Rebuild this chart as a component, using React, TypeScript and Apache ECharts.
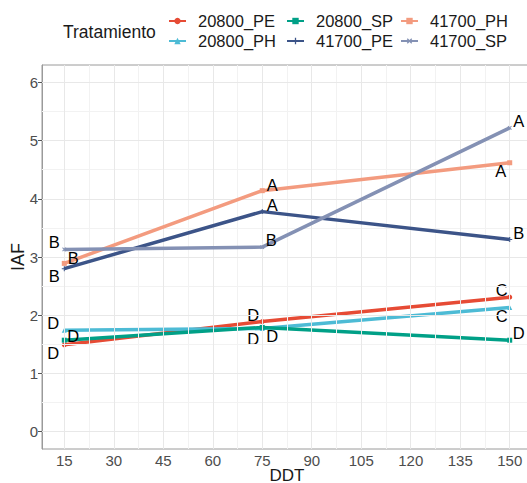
import React, { useEffect, useRef } from "react";
import * as echarts from "echarts";

const xValues = [15, 75, 150];
const seriesNames = ["20800_PE", "20800_PH", "20800_SP", "41700_PE", "41700_PH", "41700_SP"];
const s20800_PE = [1.49, 1.89, 2.31];
const s20800_PH = [1.74, 1.77, 2.13];
const s20800_SP = [1.57, 1.79, 1.57];
const s41700_PE = [2.8, 3.78, 3.3];
const s41700_PH = [2.89, 4.14, 4.62];
const s41700_SP = [3.13, 3.17, 5.22];
const l20800_PE = ["D", "D", "C"];
const l20800_PH = ["D", "D", "C"];
const l20800_SP = ["D", "D", "D"];
const l41700_PE = ["B", "A", "B"];
const l41700_PH = ["B", "A", "A"];
const l41700_SP = ["B", "B", "A"];
const xTicks = [15, 30, 45, 60, 75, 90, 105, 120, 135, 150];
const xMinor = [22.5, 37.5, 52.5, 67.5, 82.5, 97.5, 112.5, 127.5, 142.5];
const yTicks = [0, 1, 2, 3, 4, 5, 6];
const yMinor = [0.5, 1.5, 2.5, 3.5, 4.5, 5.5];

const values = [s20800_PE, s20800_PH, s20800_SP, s41700_PE, s41700_PH, s41700_SP];
const letters = [l20800_PE, l20800_PH, l20800_SP, l41700_PE, l41700_PH, l41700_SP];

// styling / layout
const colors = ["#E64B35", "#4DBBD5", "#00A087", "#3C5488", "#F39B7F", "#8491B4"];
const symbols = [
  "circle",
  "triangle",
  "rect",
  "path://M4,0H6V4H10V6H6V10H4V6H0V4H4Z",
  "rect",
  "path://M4,0H6V4H10V6H6V10H4V6H0V4H4Z",
];
const symbolRot = [0, 0, 0, 0, 0, 45];
const labelOffsets = [
  [[-11, 8], [-9, -7], [-8, -7]],
  [[-11, -7], [-9, 10], [-8, 8]],
  [[9, -4], [10, 9], [9, -7]],
  [[-10, 7], [10, -7], [9, -7]],
  [[9, -5], [10, -6], [-9, 8]],
  [[-10, -7], [9, -7], [9, -7]],
];

export default function App() {
  const ref = useRef<HTMLDivElement>(null);
  useEffect(() => {
    if (!ref.current) return;
    const chart = echarts.init(ref.current, null, { renderer: "svg" });
    const font = "Liberation Sans, Arial, sans-serif";
    const gridLines = [
      ...xMinor.map((v) => ({ xAxis: v, lineStyle: { color: "#F2F2F2", width: 1, type: "solid" } })),
      ...yMinor.map((v) => ({ yAxis: v, lineStyle: { color: "#F2F2F2", width: 1, type: "solid" } })),
      ...xTicks.map((v) => ({ xAxis: v, lineStyle: { color: "#E8E8E8", width: 1, type: "solid" } })),
      ...yTicks.map((v) => ({ yAxis: v, lineStyle: { color: "#E8E8E8", width: 1, type: "solid" } })),
    ];
    const series: any[] = [
      {
        type: "line",
        name: "__grid",
        data: [],
        z: 0,
        silent: true,
        markLine: { silent: true, symbol: "none", label: { show: false }, data: gridLines, animation: false },
      },
      ...seriesNames.map((name, i) => ({
        type: "line",
        name,
        z: 2 + i,
        data: xValues.map((x, j) => ({
          value: [x, values[i][j]],
          label: {
            show: true,
            formatter: letters[i][j],
            position: "inside",
            offset: labelOffsets[i][j],
            color: "#000",
            fontSize: 16.5,
            fontFamily: font,
          },
        })),
        symbol: symbols[i],
        symbolSize: 5,
        symbolRotate: symbolRot[i],
        showSymbol: true,
        lineStyle: { color: colors[i], width: 3.5 },
        itemStyle: { color: colors[i] },
      })),
    ];
    const legendCols = [
      ["20800_PE", "20800_PH"],
      ["20800_SP", "41700_PE"],
      ["41700_PH", "41700_SP"],
    ];
    const legendLeft = [168, 286, 400];
    chart.setOption({
      animation: false,
      textStyle: { fontFamily: font },
      grid: {
        left: 42,
        top: 65,
        right: -5,
        bottom: 34,
        show: true,
        borderColor: "#9a9a9a",
        borderWidth: 1,
        containLabel: false,
        outerBoundsMode: "none",
      },
      legend: legendCols.map((d, k) => ({
        data: d,
        orient: "vertical",
        left: legendLeft[k],
        top: 12,
        padding: 0,
        itemWidth: 17,
        itemHeight: 8,
        itemGap: 2,
        selectedMode: false,
        textStyle: { fontSize: 16.5, color: "#1a1a1a", fontFamily: font, lineHeight: 18, padding: [0, 0, 0, 7] },
      })),
      graphic: [
        {
          type: "text",
          left: 63,
          top: 23,
          style: { text: "Tratamiento", fontSize: 17.5, fill: "#1a1a1a", fontFamily: font },
        },
      ],
      xAxis: {
        type: "value",
        min: 8.25,
        max: 156.75,
        name: "DDT",
        nameLocation: "middle",
        nameGap: 18,
        nameMoveOverlap: false,
        nameTextStyle: { fontSize: 17, lineHeight: 17, color: "#1a1a1a", fontFamily: font },
        axisLine: { show: true, lineStyle: { color: "#9a9a9a" } },
        axisTick: { show: true, length: 4, lineStyle: { color: "#555" }, customValues: xTicks },
        axisLabel: { fontSize: 15, color: "#4d4d4d", margin: 4, customValues: xTicks, fontFamily: font },
        splitLine: { show: false },
      },
      yAxis: {
        type: "value",
        min: -0.3,
        max: 6.3,
        name: "IAF",
        nameLocation: "middle",
        nameGap: 15,
        nameMoveOverlap: false,
        nameTextStyle: { fontSize: 18, color: "#1a1a1a", fontFamily: font },
        axisLine: { show: true, lineStyle: { color: "#9a9a9a" } },
        axisTick: { show: true, length: 4, lineStyle: { color: "#555" }, customValues: yTicks },
        axisLabel: { fontSize: 15, color: "#4d4d4d", margin: 4, customValues: yTicks, fontFamily: font },
        splitLine: { show: false },
      },
      series,
    });
    return () => chart.dispose();
  }, []);
  return (
    <div
      ref={ref}
      style={{ position: "absolute", left: 0, top: 0, width: 527, height: 483, background: "#fff" }}
    />
  );
}
